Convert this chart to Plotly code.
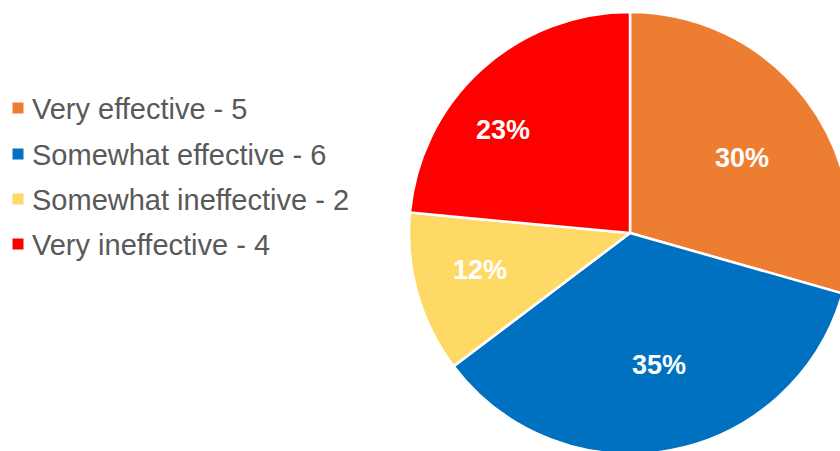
import math
import plotly.graph_objects as go

# Survey responses
categories = ["Very effective", "Somewhat effective", "Somewhat ineffective", "Very ineffective"]
counts = [5, 6, 2, 4]
pct_labels = ["30%", "35%", "12%", "23%"]
colors = ["#ED7D31", "#0070C0", "#FFD966", "#FF0000"]

W, H = 880, 470  # canvas is a little larger than the view so the pie runs off the right/bottom edge

# pie geometry in pixels
CX, CY, R = 630, 233, 221
label_radius = [0.61, 0.61, 0.70, 0.74]  # radial placement of each percentage label
label_shift = [3.3, -2.0, 2.0, -8.8]     # angular nudge (degrees) from the slice's middle

fig = go.Figure()
fig.add_trace(go.Pie(
    labels=categories,
    values=counts,
    textinfo="none",
    marker=dict(colors=colors, line=dict(color="white", width=2.5)),
    sort=False,
    direction="clockwise",
    rotation=0,
    showlegend=False,
    hoverinfo="label+value",
    domain=dict(x=[(CX - R) / W, (CX + R) / W], y=[1 - (CY + R) / H, 1 - (CY - R) / H]),
))

# Percentage labels near the middle angle of each slice
total = sum(counts)
cum = 0
for n, lab, rf, sh in zip(counts, pct_labels, label_radius, label_shift):
    mid = (cum + n / 2) / total * 2 * math.pi + math.radians(sh)
    cum += n
    px = CX + rf * R * math.sin(mid)
    py = CY - rf * R * math.cos(mid)
    fig.add_annotation(xref="paper", yref="paper", x=px / W, y=1 - py / H, text=lab,
                       showarrow=False, xanchor="center", yanchor="middle",
                       font=dict(family="Liberation Sans, Arial, sans-serif", size=27,
                                 color="white", weight="bold"))

# Legend drawn as squares and labels
row_y = [108, 154, 199, 244]
for i, (cat, n) in enumerate(zip(categories, counts)):
    y = row_y[i]
    fig.add_shape(type="rect", xref="paper", yref="paper",
                  x0=12.5 / W, x1=23.5 / W, y0=1 - (y + 5.5) / H, y1=1 - (y - 5.5) / H,
                  fillcolor=colors[i], line=dict(width=0))
    fig.add_annotation(xref="paper", yref="paper", x=30 / W, y=1 - (y + 1) / H,
                       text=f"{cat} - {n}", showarrow=False, xanchor="left", yanchor="middle",
                       font=dict(family="Liberation Sans, Arial, sans-serif", size=29, color="#595959"))

fig.update_layout(
    width=W, height=H,
    margin=dict(l=0, r=0, t=0, b=0),
    paper_bgcolor="white",
    plot_bgcolor="white",
)

fig.write_html("out.html")
